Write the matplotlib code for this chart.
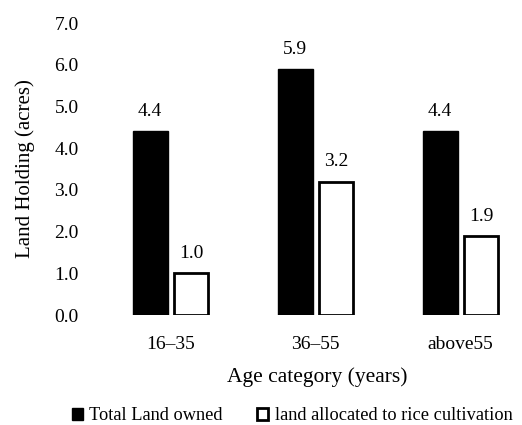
import numpy as np
import matplotlib.pyplot as plt

plt.rcParams['font.family'] = ['Liberation Serif', 'DejaVu Serif']

# 各年龄段的土地数据
categories = ['16–35', '36–55', 'above55']
total_land = [4.4, 5.9, 4.4]
rice_land = [1.0, 3.2, 1.9]
yticks = [0.0, 1.0, 2.0, 3.0, 4.0, 5.0, 6.0, 7.0]

fig = plt.figure(figsize=(5.22, 4.25), dpi=100)
ax = fig.add_axes([98 / 522, 110 / 425, 145 * 2.9 / 522, 292 / 425])

x = np.arange(len(categories))
w = 0.24
b1 = ax.bar(x - 0.14, total_land, w, color='black', edgecolor='black', linewidth=1.0,
            label='Total Land owned')
b2 = ax.bar(x + 0.141, rice_land, w, color='white', edgecolor='black', linewidth=2.0,
            label='land allocated to rice cultivation')

for bars, vals in [(b1, total_land), (b2, rice_land)]:
    for r, v in zip(bars, vals):
        ax.annotate('%.1f' % v, (r.get_x() + r.get_width() / 2, v), xytext=(0, 8),
                    textcoords='offset points', ha='center', va='bottom', fontsize=14)

ax.set_xlim(-0.5, 2.4)
ax.set_ylim(0, 7)
ax.set_yticks(yticks)
ax.set_yticklabels(['%.1f' % t for t in yticks], fontsize=14)
ax.set_xticks(x)
ax.set_xticklabels(categories, fontsize=14)
ax.tick_params(length=0)
ax.tick_params(axis='x', pad=15)
ax.tick_params(axis='y', pad=14)
for s in ax.spines.values():
    s.set_visible(False)

ax.set_ylabel('Land Holding (acres)', fontsize=15, labelpad=14)
fig.text(317 / 522, 1 - 377 / 425, 'Age category (years)', ha='center', va='center', fontsize=15.5)

fig.legend(handles=[b1, b2], loc='center', bbox_to_anchor=(292 / 522, 1 - 416 / 425),
           ncol=2, frameon=False, fontsize=13.2, handlelength=0.6, handleheight=0.6,
           handletextpad=0.35, columnspacing=1.9)

fig.savefig('out.png', dpi=100)
